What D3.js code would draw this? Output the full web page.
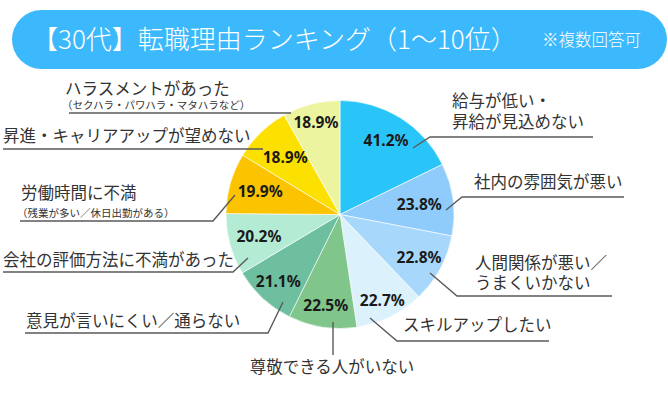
<!DOCTYPE html>
<html><head><meta charset="utf-8">
<script src="https://cdn.jsdelivr.net/npm/d3@7"></script>
<style>body{margin:0;background:#fff;}svg{display:block;}</style>
</head><body>
<svg id="c" width="668" height="400"></svg>
<script>
// ---- data ----
const titleText = "【30代】転職理由ランキング（1〜10位）";
const noteText = "※複数回答可";
const categories = [
  "給与が低い・昇給が見込めない",
  "社内の雰囲気が悪い",
  "人間関係が悪い／うまくいかない",
  "スキルアップしたい",
  "尊敬できる人がいない",
  "意見が言いにくい／通らない",
  "会社の評価方法に不満があった",
  "労働時間に不満（残業が多い／休日出勤がある）",
  "昇進・キャリアアップが望めない",
  "ハラスメントがあった（セクハラ・パワハラ・マタハラなど）"
];
const values = [41.2, 23.8, 22.8, 22.7, 22.5, 21.1, 20.2, 19.9, 18.9, 18.9];
const labelLines = [
  ["給与が低い・", "昇給が見込めない"],
  ["社内の雰囲気が悪い"],
  ["人間関係が悪い／", "うまくいかない"],
  ["スキルアップしたい"],
  ["尊敬できる人がいない"],
  ["意見が言いにくい／通らない"],
  ["会社の評価方法に不満があった"],
  ["労働時間に不満"],
  ["昇進・キャリアアップが望めない"],
  ["ハラスメントがあった"]
];
const subLines = ["", "", "", "", "", "", "", "（残業が多い／休日出勤がある）", "", "（セクハラ・パワハラ・マタハラなど）"];

// ---- styles / layout ----
const colors = ["#29c5f9", "#8fcbfb", "#a7d8fc", "#dbf2fc", "#80c58a", "#6ebf9f", "#b3ebd4", "#fcc300", "#fce000", "#edf4a0"];
const cx = 340, cy = 214.5, R = 114;
const pctRadius = [87, 80, 90, 96, 92, 91, 84, 83, 79, 95];
// callout layout: leader polyline, text anchor, line baselines, sub baseline
const callouts = [
  {pts: [[413,148],[430,137],[593,137]], x: 452, ys: [107,128], anchor: "start"},
  {pts: [[446,210],[462,197],[624,197]], x: 474, ys: [188], anchor: "start"},
  {pts: [[430,273],[457,296],[612,296]], x: 475, ys: [269,289], anchor: "start"},
  {pts: [[370,318],[397,341],[549,341]], x: 403, ys: [331], anchor: "start"},
  {pts: [[333,322],[333,355]], x: 332, ys: [373], anchor: "middle"},
  {pts: [[283,302],[268,333],[25,333]], x: 26, ys: [327], anchor: "start"},
  {pts: [[248,258],[233,272],[3,272]], x: 3, ys: [266], anchor: "start"},
  {pts: [[235,195],[213,221],[20,221]], x: 21, ys: [199], anchor: "start", sx: 17, sy: 217},
  {pts: [[263,149],[3,149]], x: 3, ys: [142], anchor: "start"},
  {pts: [[291,113],[69,113]], x: 65, ys: [95], anchor: "start", sx: 62, sy: 109}
];

const svg = d3.select("#c");
const JP = "'Noto Sans CJK JP','Noto Sans',sans-serif";

// title bar
svg.append("rect").attr("x", 12).attr("y", 10).attr("width", 655).attr("height", 59)
  .attr("rx", 29.5).attr("fill", "#3cb8fc");
svg.append("text").attr("x", 32).attr("y", 48.5).attr("fill", "#fff")
  .style("font-family", JP).style("font-size", "26px").style("font-weight", 300).text(titleText);
svg.append("text").attr("x", 542).attr("y", 45.5).attr("fill", "#fff")
  .style("font-family", JP).style("font-size", "16.5px").style("font-weight", 300).text(noteText);

// pie
const pie = d3.pie().sort(null).value(d => d)(values);
const arc = d3.arc().innerRadius(0).outerRadius(R);
const g = svg.append("g").attr("transform", `translate(${cx},${cy})`);
g.selectAll("path").data(pie).join("path")
  .attr("d", arc).attr("fill", (d, i) => colors[i])
  .attr("stroke", "#fff").attr("stroke-width", 0.6);

// percentage labels
g.selectAll("text.pct").data(pie).join("text").attr("class", "pct")
  .attr("x", (d, i) => Math.sin((d.startAngle + d.endAngle) / 2) * pctRadius[i])
  .attr("y", (d, i) => -Math.cos((d.startAngle + d.endAngle) / 2) * pctRadius[i])
  .attr("dy", "0.36em").attr("text-anchor", "middle")
  .attr("fill", "#1a1a1a")
  .style("font-family", "'Noto Sans',sans-serif").style("font-weight", 700).style("font-size", "15.5px")
  .text(d => d.data.toFixed(1) + "%");

// callouts
const line = d3.line();
callouts.forEach((c, i) => {
  svg.append("path").attr("d", line(c.pts)).attr("fill", "none")
    .attr("stroke", "#5a5a5a").attr("stroke-width", 1.4);
  labelLines[i].forEach((t, j) => {
    svg.append("text").attr("x", c.x).attr("y", c.ys[j]).attr("text-anchor", c.anchor)
      .attr("fill", "#333").style("font-family", JP).style("font-size", "16.5px").text(t);
  });
  if (subLines[i]) {
    svg.append("text").attr("x", c.sx).attr("y", c.sy).attr("fill", "#333")
      .style("font-family", JP).style("font-size", "10.5px").text(subLines[i]);
  }
});
</script>
</body></html>
